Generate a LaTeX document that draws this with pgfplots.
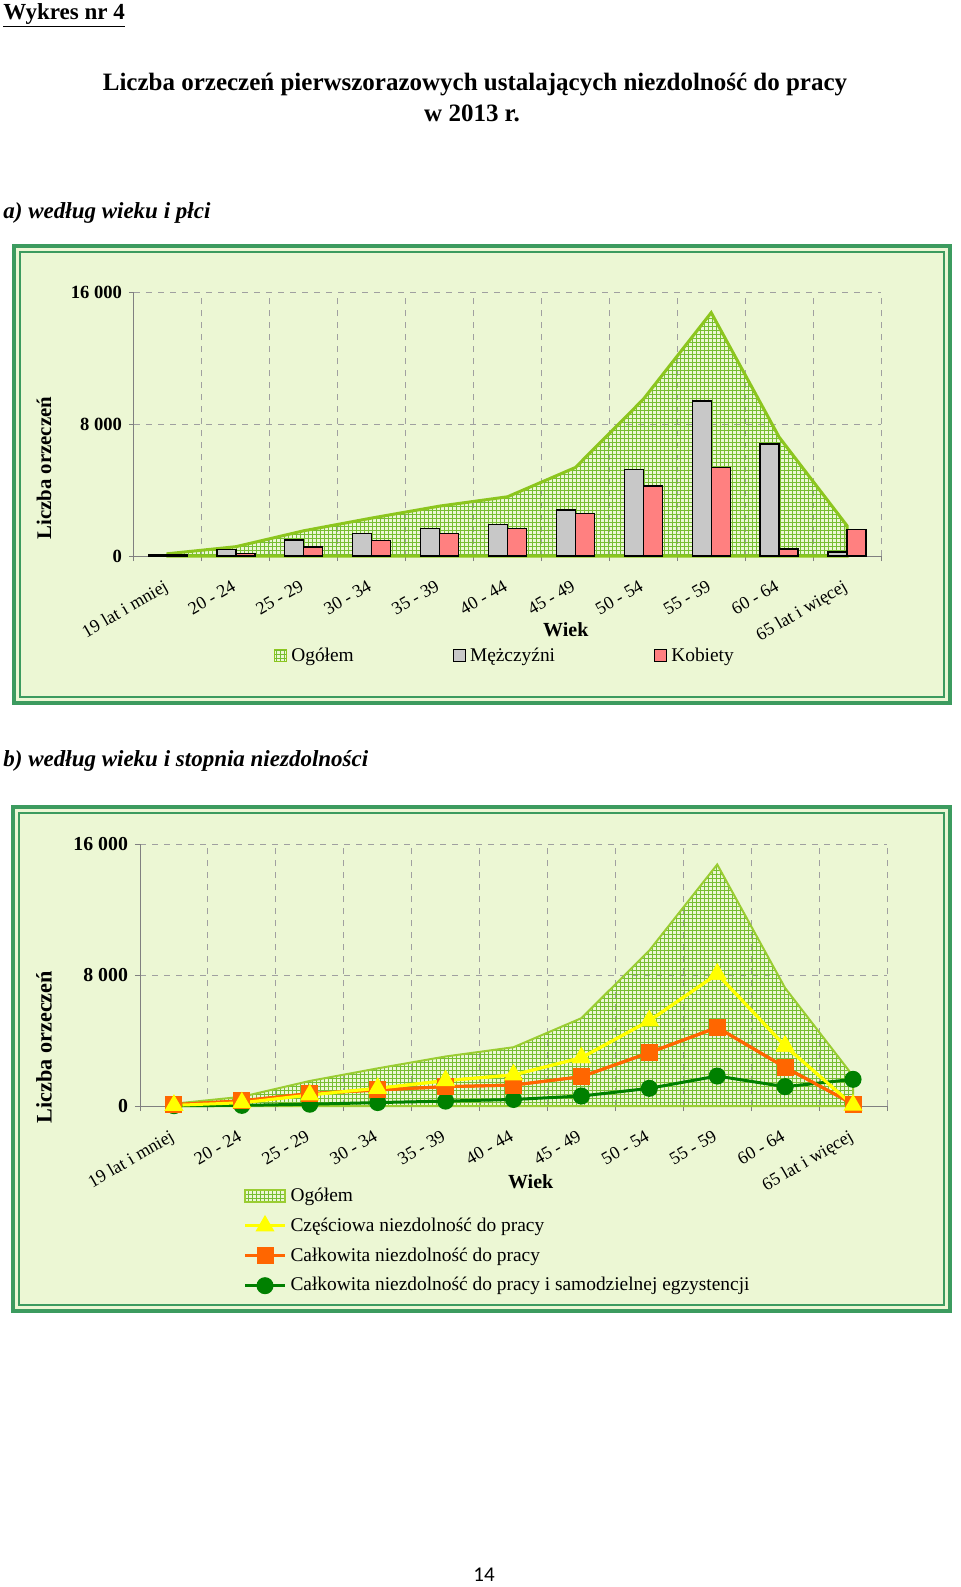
\documentclass[border=0pt]{standalone}
\usepackage{fontspec}
\setmainfont{Liberation Serif}
\newfontfamily\carlito{Carlito}
\usepackage{pgfplots}
\pgfplotsset{compat=1.18}
\usepackage{pgfplotstable}
\usetikzlibrary{patterns}

\definecolor{framegreen}{RGB}{60,155,95}
\definecolor{bgc}{RGB}{236,247,212}
\definecolor{olime}{RGB}{140,198,30}
\definecolor{olime2}{RGB}{154,205,50}
\definecolor{hatchc}{RGB}{118,190,50}
\definecolor{mgrey}{RGB}{200,200,200}
\definecolor{kred}{RGB}{255,128,128}
\definecolor{cyel}{RGB}{255,255,0}
\definecolor{corg}{RGB}{255,102,0}
\definecolor{cgrn}{RGB}{0,128,0}
\definecolor{gridc}{RGB}{160,160,160}

\pgfdeclarepatternformonly{hgrid}{\pgfqpoint{-0.5pt}{-0.5pt}}{\pgfqpoint{2.5pt}{2.5pt}}{\pgfqpoint{2pt}{2pt}}{%
 \pgfsetlinewidth{0.5pt}%
 \pgfpathmoveto{\pgfqpoint{0pt}{-0.5pt}}\pgfpathlineto{\pgfqpoint{0pt}{2.5pt}}%
 \pgfpathmoveto{\pgfqpoint{-0.5pt}{0pt}}\pgfpathlineto{\pgfqpoint{2.5pt}{0pt}}%
 \pgfusepath{stroke}}

\pgfplotstableread{
x M K O Y C G
0 90 50 140 40 80 20
1 400 160 565 200 320 40
2 970 545 1530 680 760 110
3 1350 950 2300 1080 980 210
4 1675 1350 3025 1550 1180 300
5 1900 1675 3590 1900 1280 400
6 2785 2580 5365 2950 1790 610
7 5250 4250 9500 5210 3260 1080
8 9400 5350 14750 8060 4800 1830
9 6780 425 7205 3660 2360 1180
10 240 1595 1835 50 120 1630
}\data

\pgfplotsset{
 common/.style={
  scale only axis, width=373.5pt,
  xmin=-0.5, xmax=10.5, ymin=0, ymax=16000, clip=false,
  scaled y ticks=false,
  axis x line*=bottom, axis y line*=left,
  axis line style={-, draw=gray, line width=0.5pt},
  tick style={draw=gray, line width=0.5pt}, tick align=outside, major tick length=2.5pt,
  ytick={0,8000,16000}, yticklabels={0,8 000,16 000},
  ymajorgrids, xmajorgrids, grid style={dashed, draw=gridc, line width=0.5pt},
  xtick={-0.5,0.5,...,10.5}, xticklabels={},
  extra x ticks={0,1,...,10},
  extra x tick labels={19 lat i mniej,20 - 24,25 - 29,30 - 34,35 - 39,40 - 44,45 - 49,50 - 54,55 - 59,60 - 64,65 lat i więcej},
  extra x tick style={grid=none, major tick length=0pt},
  xticklabel style={yshift=-11.5pt, xshift=-2.5pt, rotate=30, anchor=north east, inner sep=0pt, font=\fontsize{9}{10}\selectfont},
  xlabel={Wiek}, ylabel={Liczba orzeczeń},
 }
}

\begin{document}
\begin{tikzpicture}
\begin{scope}[x=0.5pt,y=-0.5pt]
\path[use as bounding box] (0,0) rectangle (960,1587);
\node[anchor=base west, inner sep=0pt, font=\fontsize{11.5}{13}\selectfont\bfseries] at (3,19) {\underline{Wykres nr 4}};
\node[anchor=base, inner sep=0pt, font=\fontsize{12.5}{15}\selectfont\bfseries] at (475,90) {Liczba orzeczeń pierwszorazowych ustalających niezdolność do pracy};
\node[anchor=base, inner sep=0pt, font=\fontsize{12.5}{15}\selectfont\bfseries] at (472,121) {w 2013 r.};
\node[anchor=base west, inner sep=0pt, font=\fontsize{11.5}{13}\selectfont\bfseries\itshape] at (3,218) {a) według wieku i płci};
\node[anchor=base west, inner sep=0pt, font=\fontsize{11.5}{13}\selectfont\bfseries\itshape] at (3,766) {b) według wieku i stopnia niezdolności};
\node[anchor=base, inner sep=0pt, font=\carlito\fontsize{10.5}{12}\selectfont] at (484,1581) {14};
% frame 1
\fill[bgc] (12,244) rectangle (952,705);
\draw[framegreen, line width=2pt] (14,246) rectangle (950,703);
\draw[framegreen, line width=1pt] (20,252) rectangle (944,697);
% frame 2
\fill[bgc] (11,805) rectangle (952,1313);
\draw[framegreen, line width=2pt] (13,807) rectangle (950,1311);
\draw[framegreen, line width=1pt] (19,813) rectangle (944,1305);
\end{scope}

\begin{axis}[common, at={(67pt,-278pt)}, anchor=south west, height=132pt,
  yticklabel style={font=\fontsize{9.3}{10}\selectfont\bfseries},
  xlabel style={at={(axis description cs:0.578,-0.28)}, anchor=center, font=\fontsize{10}{12}\selectfont\bfseries},
  ylabel style={at={(axis description cs:-0.1205,0.333)}, anchor=center, font=\fontsize{10.4}{12}\selectfont\bfseries},
  legend columns=3,
  legend style={at={(axis description cs:0.179,-0.378)}, anchor=west, draw=none, fill=none,
    font=\fontsize{9.7}{11}\selectfont, /tikz/every even column/.append style={column sep=47.5pt}},
 ]
\addplot[draw=olime, line width=1.5pt, pattern=hgrid, pattern color=hatchc,
  legend image code/.code={\draw[draw=olime, line width=0.6pt, pattern=hgrid, pattern color=hatchc] (0pt,-3pt) rectangle (6pt,3pt);}]
  table[x=x,y=O]{\data} \closedcycle;
\addlegendentry{Ogółem}
\addplot[ybar, bar width=9.5pt, bar shift=-4.75pt, fill=mgrey, draw=black, line width=0.7pt,
  legend image code/.code={\draw[fill=mgrey, draw=black, line width=0.6pt] (0pt,-3pt) rectangle (6pt,3pt);}]
  table[x=x,y=M]{\data};
\addlegendentry{Mężczyźni}
\addplot[ybar, bar width=9.5pt, bar shift=4.75pt, fill=kred, draw=black, line width=0.7pt,
  legend image code/.code={\draw[fill=kred, draw=black, line width=0.6pt] (0pt,-3pt) rectangle (6pt,3pt);}]
  table[x=x,y=K]{\data};
\addlegendentry{Kobiety}
\end{axis}

\begin{axis}[common, at={(70pt,-553pt)}, anchor=south west, height=131pt,
  yticklabel style={font=\fontsize{9.9}{11}\selectfont\bfseries},
  xlabel style={at={(axis description cs:0.523,-0.29)}, anchor=center, font=\fontsize{10}{12}\selectfont\bfseries},
  ylabel style={at={(axis description cs:-0.1285,0.225)}, anchor=center, font=\fontsize{11.1}{13}\selectfont\bfseries},
  legend cell align=left,
  legend style={at={(axis description cs:0.130,-0.28)}, anchor=north west, draw=none, fill=none,
    font=\fontsize{9.7}{11}\selectfont, row sep=2.7pt},
  legend image code/.code={\draw[mark repeat=2, mark phase=2, #1] plot coordinates {(0pt,0pt) (10pt,0pt) (20pt,0pt)};},
 ]
\addplot[draw=olime2, line width=1pt, pattern=hgrid, pattern color=hatchc,
  legend image code/.code={\draw[draw=olime2, line width=1pt, pattern=hgrid, pattern color=hatchc] (0pt,-3pt) rectangle (20pt,3pt);}]
  table[x=x,y=O]{\data} \closedcycle;
\addlegendentry{Ogółem}
\addplot[cyel, line width=1.5pt, mark=triangle*, mark size=4pt] table[x=x,y=Y]{\data};
\addlegendentry{Częściowa niezdolność do pracy}
\addplot[corg, line width=1.5pt, mark=square*, mark size=3.5pt] table[x=x,y=C]{\data};
\addlegendentry{Całkowita niezdolność do pracy}
\addplot[cgrn, line width=1.5pt, mark=*, mark size=3.5pt] table[x=x,y=G]{\data};
\addlegendentry{Całkowita niezdolność do pracy i samodzielnej egzystencji}
\addplot[corg, line width=1.5pt, mark=square*, mark size=3.5pt, forget plot] table[x=x,y=C]{\data};
\addplot[cyel, line width=1.5pt, mark=triangle*, mark size=4pt, forget plot] table[x=x,y=Y]{\data};
\end{axis}
\end{tikzpicture}
\end{document}
